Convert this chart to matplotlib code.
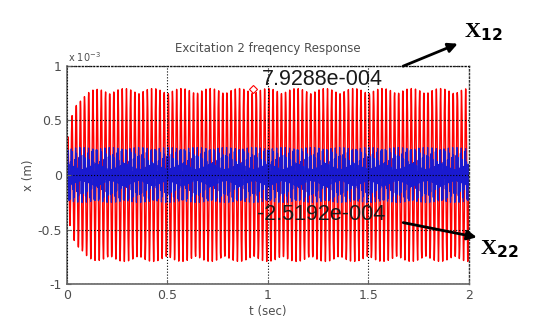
import numpy as np
import matplotlib.pyplot as plt

# steady-state response
t_end = 2.0
n_pts = 12000
amp_x1 = 7.9288e-4      # peak of x1 (red)
amp_x2 = 2.5192e-4      # peak of x2 (blue)
freqs = [48.0, 233.0]   # excitation frequencies, Hz
mix_x1 = [0.97, 0.03]
mix_x2 = [0.45, 0.55]
t_rise = 0.035          # transient build-up, s
peak_t = 0.925

t = np.linspace(0, t_end, n_pts)
env = 1 - 0.65 * np.exp(-t / t_rise)
x1 = env * (mix_x1[0] * np.sin(2*np.pi*freqs[0]*t) + mix_x1[1] * np.sin(2*np.pi*freqs[1]*t))
x1 = amp_x1 * x1 / np.abs(x1).max()
x2 = mix_x2[0] * np.sin(2*np.pi*freqs[0]*t + 0.6) + mix_x2[1] * np.sin(2*np.pi*freqs[1]*t)
x2 = amp_x2 * x2 / np.abs(x2).max()

fig = plt.figure(figsize=(5.34, 3.28), dpi=100)
ax = fig.add_axes([0.125, 0.134, 0.753, 0.665])
ax.plot(t, x1, color='red', lw=1.0)
ax.plot(t, x2, color='#1a1ad0', lw=0.9)
ax.plot([peak_t], [amp_x1], marker='D', ms=4, mfc='none', mec='red', mew=0.8)

ax.set_xlim(0, 2)
ax.set_ylim(-1e-3, 1e-3)
ax.set_xticks([0, 0.5, 1, 1.5, 2])
ax.set_xticklabels(['0', '0.5', '1', '1.5', '2'])
ax.set_yticks([-1e-3, -0.5e-3, 0, 0.5e-3, 1e-3])
ax.set_yticklabels(['-1', '-0.5', '0', '0.5', '1'])
ax.set_axisbelow(False)
ax.grid(True, color='black', ls=':', lw=0.8)
ax.tick_params(labelsize=9, direction='in', length=3, color='0.4', labelcolor='0.3')
for k in ['left', 'bottom']:
    ax.spines[k].set_color('0.4')
    ax.spines[k].set_linewidth(1.2)
for k in ['top', 'right']:
    ax.spines[k].set_color('0.2')
    ax.spines[k].set_linestyle(':')
    ax.spines[k].set_linewidth(1.0)
ax.set_xlabel('t (sec)', fontsize=8.5, color='0.3', labelpad=2)
ax.set_ylabel('x (m)', fontsize=8.5, color='0.3', labelpad=2)
ax.set_title('Excitation 2 freqency Response', fontsize=8.5, color='0.3', pad=10)
fig.text(0.128, 0.81, r'x 10$^{-3}$', fontsize=7, color='0.3')

ax.text(0.97, 8.72e-4, '7.9288e-004', fontsize=15.5, family='Liberation Sans',
        color='0.1', va='center', ha='left')
ax.text(0.945, -3.58e-4, '-2.5192e-004', fontsize=15.5, family='Liberation Sans',
        color='0.1', va='center', ha='left')

# arrows to labels in figure coords
ax.annotate('', xy=(0.862, 0.87), xytext=(0.75, 0.795), xycoords='figure fraction',
            arrowprops=dict(arrowstyle='-|>', color='black', lw=2, mutation_scale=14))
ax.annotate('', xy=(0.898, 0.275), xytext=(0.75, 0.323), xycoords='figure fraction',
            arrowprops=dict(arrowstyle='-|>', color='black', lw=2, mutation_scale=14))
fig.text(0.868, 0.885, r'X$_{\mathbf{12}}$', fontsize=16, family='Liberation Serif', weight='bold')
fig.text(0.898, 0.225, r'X$_{\mathbf{22}}$', fontsize=16, family='Liberation Serif', weight='bold')

fig.savefig('out.png', dpi=100)
